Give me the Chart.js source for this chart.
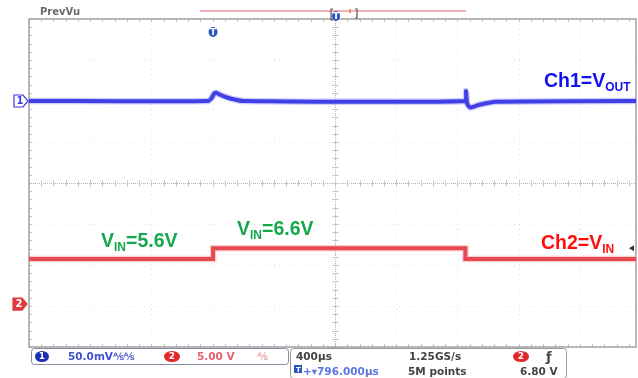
<!DOCTYPE html>
<html><head><meta charset="utf-8">
<script src="https://cdn.jsdelivr.net/npm/chart.js@4/dist/chart.umd.min.js"></script>
<style>html,body{margin:0;padding:0;background:#fff;overflow:hidden}#wrap{position:relative;width:638px;height:378px}</style>
</head><body><div id="wrap"><canvas id="c" width="638" height="378"></canvas></div>
<script>
// ---- data (time relative to screen centre, in microseconds; 400 us/div) ----
const ch1TimeUs = [-2000, -830, -805, -790, -775, -755, -730, -700, -660, -600, 850, 856, 862, 872, 885, 905, 935, 980, 1050, 1967];
const ch1mV     = [0, 0, 4, 9, 10, 8, 6, 4, 2, 0, 0, 12, -2, -6, -8, -7, -5, -3, -1, 0];
const ch2TimeUs = [-2000, -797, -797, 852, 852, 1967];
const ch2V      = [5.5, 5.5, 6.8, 6.8, 5.5, 5.5];
const divTicksUs = [-2000, -1600, -1200, -800, -400, 0, 400, 800, 1200, 1600];
const divTicksY  = [-4, -3, -2, -1, 0, 1, 2, 3, 4];
const labels = {
  ch1: ['Ch1=V', 'OUT', ''],
  ch2: ['Ch2=V', 'IN', ''],
  vin1: ['V', 'IN', '=5.6V'],
  vin2: ['V', 'IN', '=6.6V']
};
const statusTexts = {
  ch1Scale: '50.0mV⅍⅍', ch2Scale: '5.00 V', ch2Bw: '⅍',
  timebase: '400µs', rate: '1.25GS/s', delay: '+▾796.000µs', points: '5M points', trigLevel: '6.80 V',
  prev: 'PrevVu'
};

const pts = (xs, ys) => xs.map((x, i) => ({x, y: ys[i]}));

function subText(ctx, x, base, parts, color, size) {
  ctx.save();
  ctx.fillStyle = color;
  ctx.textBaseline = 'alphabetic';
  ctx.font = 'bold ' + size + 'px "Liberation Sans", Arial, sans-serif';
  ctx.fillText(parts[0], x, base);
  let w = ctx.measureText(parts[0]).width;
  ctx.font = 'bold ' + Math.round(size * 0.62) + 'px "Liberation Sans", Arial, sans-serif';
  ctx.fillText(parts[1], x + w, base + 3.5);
  w += ctx.measureText(parts[1]).width;
  ctx.font = 'bold ' + size + 'px "Liberation Sans", Arial, sans-serif';
  ctx.fillText(parts[2], x + w, base);
  ctx.restore();
}

function pentagon(ctx, x, y, fill, stroke, txt, txtColor) {
  ctx.save();
  ctx.beginPath();
  ctx.moveTo(x, y - 6); ctx.lineTo(x + 9, y - 6); ctx.lineTo(x + 14, y); ctx.lineTo(x + 9, y + 6); ctx.lineTo(x, y + 6); ctx.closePath();
  ctx.fillStyle = fill; ctx.fill();
  ctx.lineWidth = 1.2; ctx.strokeStyle = stroke; ctx.stroke();
  ctx.fillStyle = txtColor; ctx.font = 'bold 10px "DejaVu Sans", sans-serif';
  ctx.textAlign = 'center'; ctx.textBaseline = 'middle';
  ctx.fillText(txt, x + 6, y + 0.5);
  ctx.restore();
}

function badge(ctx, cx, cy, rx, ry, fill, txt) {
  ctx.save();
  ctx.beginPath(); ctx.ellipse(cx, cy, rx, ry, 0, 0, Math.PI * 2);
  ctx.fillStyle = fill; ctx.fill();
  ctx.fillStyle = '#fff'; ctx.font = 'bold 9px "DejaVu Sans", sans-serif';
  ctx.textAlign = 'center'; ctx.textBaseline = 'middle';
  ctx.fillText(txt, cx, cy + 0.5);
  ctx.restore();
}

function roundRect(ctx, x, y, w, h, r) {
  ctx.beginPath();
  ctx.moveTo(x + r, y); ctx.lineTo(x + w - r, y); ctx.quadraticCurveTo(x + w, y, x + w, y + r);
  ctx.lineTo(x + w, y + h - r); ctx.quadraticCurveTo(x + w, y + h, x + w - r, y + h);
  ctx.lineTo(x + r, y + h); ctx.quadraticCurveTo(x, y + h, x, y + h - r);
  ctx.lineTo(x, y + r); ctx.quadraticCurveTo(x, y, x + r, y); ctx.closePath();
}

const scopePlugin = {
  id: 'scope',
  beforeDatasetsDraw(chart) {
    const {ctx, chartArea: a, scales} = chart;
    const sx = scales.x, gy = scales.gy;
    ctx.save();
    ctx.strokeStyle = 'rgba(160,160,160,0.28)';
    ctx.lineWidth = 1;
    ctx.setLineDash([1, 4]);
    divTicksUs.forEach(t => {
      const px = Math.round(sx.getPixelForValue(t)) + 0.5;
      ctx.beginPath(); ctx.moveTo(px, a.top); ctx.lineTo(px, a.bottom); ctx.stroke();
    });
    divTicksY.forEach(d => {
      const py = Math.round(gy.getPixelForValue(d)) + 0.5;
      ctx.beginPath(); ctx.moveTo(a.left, py); ctx.lineTo(a.right, py); ctx.stroke();
    });
    ctx.setLineDash([1, 1]);
    ctx.strokeStyle = '#b8b8b8';
    const cx = Math.round(sx.getPixelForValue(0)) + 0.5;
    const cy = Math.round(gy.getPixelForValue(0)) + 0.5;
    ctx.beginPath(); ctx.moveTo(cx, a.top); ctx.lineTo(cx, a.bottom); ctx.stroke();
    ctx.beginPath(); ctx.moveTo(a.left, cy); ctx.lineTo(a.right, cy); ctx.stroke();
    ctx.setLineDash([]);
    ctx.strokeStyle = '#c4c4c4';
    for (let t = -2000; t <= 1967; t += 80) {
      const px = Math.round(sx.getPixelForValue(t)) + 0.5;
      ctx.beginPath(); ctx.moveTo(px, cy - 3); ctx.lineTo(px, cy + 3); ctx.stroke();
      ctx.beginPath(); ctx.moveTo(px, a.top); ctx.lineTo(px, a.top + 3); ctx.stroke();
      ctx.beginPath(); ctx.moveTo(px, a.bottom - 3); ctx.lineTo(px, a.bottom); ctx.stroke();
    }
    for (let d = -4; d <= 4.001; d += 0.2) {
      const py = Math.round(gy.getPixelForValue(d)) + 0.5;
      ctx.beginPath(); ctx.moveTo(cx - 3, py); ctx.lineTo(cx + 3, py); ctx.stroke();
      ctx.beginPath(); ctx.moveTo(a.left, py); ctx.lineTo(a.left + 3, py); ctx.stroke();
    }
    ctx.strokeStyle = '#a0a0a0';
    ctx.lineWidth = 1.5;
    ctx.strokeRect(a.left, a.top, a.right - a.left, a.bottom - a.top);
    ctx.restore();
  },
  afterDraw(chart) {
    const {ctx, scales} = chart;
    const sx = scales.x;
    ctx.save();
    ctx.fillStyle = '#6a6a6a';
    ctx.font = 'bold 10px "DejaVu Sans", sans-serif';
    ctx.textBaseline = 'alphabetic';
    ctx.fillText(statusTexts.prev, 40, 15);
    ctx.strokeStyle = '#f3b0b6'; ctx.lineWidth = 2;
    ctx.beginPath(); ctx.moveTo(200, 11); ctx.lineTo(466, 11); ctx.stroke();
    const cxp = sx.getPixelForValue(0);
    ctx.strokeStyle = '#555'; ctx.lineWidth = 1.2;
    ctx.beginPath(); ctx.moveTo(cxp - 2, 9); ctx.lineTo(cxp - 4, 9); ctx.lineTo(cxp - 4, 20); ctx.lineTo(cxp - 2, 20); ctx.stroke();
    ctx.beginPath(); ctx.moveTo(cxp + 20, 9); ctx.lineTo(cxp + 22, 9); ctx.lineTo(cxp + 22, 18); ctx.lineTo(cxp + 20, 18); ctx.stroke();
    badge(ctx, cxp + 1, 16, 4, 5, '#2a55c4', 'T');
    ctx.fillStyle = '#e0a060'; ctx.fillRect(cxp + 14, 9, 2, 4);
    const tp = sx.getPixelForValue(ch2TimeUs[1]);
    badge(ctx, tp, 32, 4.5, 5, '#2a55c4', 'T');
    pentagon(ctx, 14, scales.y1.getPixelForValue(0), '#ffffff', '#3a3ae0', '1', '#3a3ae0');
    pentagon(ctx, 13, scales.y2.getPixelForValue(0), '#e23a3a', '#e23a3a', '2', '#ffffff');
    ctx.fillStyle = '#333';
    ctx.beginPath();
    const tl = scales.y2.getPixelForValue(6.8);
    ctx.moveTo(629, tl); ctx.lineTo(634, tl - 3); ctx.lineTo(634, tl + 3); ctx.closePath(); ctx.fill();
    subText(ctx, 544, 87, labels.ch1, '#1010f0', 19.5);
    subText(ctx, 541, 249, labels.ch2, '#ff0d0d', 19.5);
    subText(ctx, 101, 247, labels.vin1, '#14a84a', 19.5);
    subText(ctx, 237, 235, labels.vin2, '#14a84a', 19.5);
    ctx.lineWidth = 1;
    ctx.strokeStyle = '#8a8aa0';
    roundRect(ctx, 31.5, 348.5, 257, 16, 3); ctx.stroke();
    ctx.strokeStyle = '#9a9a9a';
    roundRect(ctx, 290.5, 348.5, 276, 30, 3); ctx.stroke();
    badge(ctx, 42, 356.5, 7, 5.5, '#1c2fb0', '1');
    badge(ctx, 172, 356.5, 8, 5.5, '#e02828', '2');
    badge(ctx, 521, 356.5, 8, 5.5, '#e02828', '2');
    ctx.font = 'bold 10.5px "DejaVu Sans", sans-serif';
    ctx.textBaseline = 'alphabetic';
    ctx.fillStyle = '#4050d0'; ctx.fillText(statusTexts.ch1Scale, 68, 360);
    ctx.fillStyle = '#e86070'; ctx.fillText(statusTexts.ch2Scale, 197, 360);
    ctx.fillStyle = '#e8a0a8'; ctx.fillText(statusTexts.ch2Bw, 257, 360);
    ctx.fillStyle = '#444';
    ctx.fillText(statusTexts.timebase, 296, 360);
    ctx.fillText(statusTexts.rate, 409, 360);
    ctx.fillText(statusTexts.points, 408, 375);
    ctx.fillText(statusTexts.trigLevel, 520, 375);
    ctx.font = 'bold 13px "DejaVu Sans", sans-serif';
    ctx.fillText('\u0192', 546, 361);
    ctx.fillStyle = '#2a55c4'; ctx.fillRect(294, 365, 8, 8);
    ctx.fillStyle = '#fff'; ctx.font = 'bold 7px "DejaVu Sans", sans-serif'; ctx.fillText('T', 296, 372);
    ctx.font = 'bold 10.5px "DejaVu Sans", sans-serif';
    ctx.fillStyle = '#5a78e0'; ctx.fillText(statusTexts.delay, 303, 375);
    ctx.restore();
  }
};

new Chart(document.getElementById('c'), {
  type: 'line',
  data: {
    datasets: [
      {data: pts(ch2TimeUs, ch2V), yAxisID: 'y2', borderColor: 'rgba(240,120,120,0.35)', borderWidth: 6.5, pointRadius: 0, tension: 0},
      {data: pts(ch2TimeUs, ch2V), yAxisID: 'y2', borderColor: '#e3323c', borderWidth: 4, pointRadius: 0, tension: 0},
      {data: pts(ch1TimeUs, ch1mV), yAxisID: 'y1', borderColor: 'rgba(110,110,250,0.35)', borderWidth: 6.5, pointRadius: 0, tension: 0.2},
      {data: pts(ch1TimeUs, ch1mV), yAxisID: 'y1', borderColor: '#2828dc', borderWidth: 4, pointRadius: 0, tension: 0.2}
    ]
  },
  options: {
    responsive: false, animation: false, devicePixelRatio: 1,
    layout: {padding: {left: 29, right: 2, top: 19, bottom: 31}},
    plugins: {legend: {display: false}, tooltip: {enabled: false}},
    events: [],
    scales: {
      x: {type: 'linear', axis: 'x', min: -2000, max: 1967, display: false},
      y1: {type: 'linear', axis: 'y', min: -300, max: 100, display: false},
      y2: {type: 'linear', axis: 'y', min: -5.24, max: 34.76, display: false},
      gy: {type: 'linear', axis: 'y', min: -4, max: 4, display: false}
    }
  },
  plugins: [scopePlugin]
});
</script>
</body></html>
